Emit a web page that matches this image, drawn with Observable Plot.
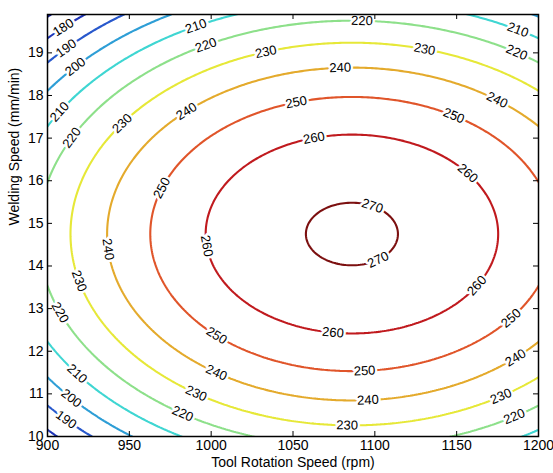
<!DOCTYPE html>
<html><head><meta charset="utf-8">
<script src="https://cdn.jsdelivr.net/npm/d3@7"></script>
<script src="https://cdn.jsdelivr.net/npm/@observablehq/plot@0.6"></script>
<style>body{margin:0;background:#fff} svg{display:block}</style>
</head><body><div id="chart"></div>
<script>
// Axis ticks
const xTicks = [900, 950, 1000, 1050, 1100, 1150, 1200];
const yTicks = [10, 11, 12, 13, 14, 15, 16, 17, 18, 19];
// Contour levels
const levels = [170, 180, 190, 200, 210, 220, 230, 240, 250, 260, 270];
// Response surface (peak location/height, curvatures)
const peakX = 1086, peakY = 14.75, peakZ = 271.1;
const curvX = 0.00139, curvY = 2.04;
// Contour label positions
const labelLevel = [180,190,200,210,220,230,210,220,230,240,250,260,220,210,220,230,240,240,250,250,260,260,270,240,230,220,250,240,230,220,210,200,190,270,260,260,250,240,230,250,240,230,220];
const labelX = [911,913,918,992,998,1034,909,917,949,987,973,997,1092,1187,1186,1130,1079,1174,1053,1147,1064,1157,1097,936,918,906,1001,1001,989,981,915,911,908,1103,1166,1074,1094,1096,1083,1187,1189,1179,1187];
const labelY = [19.56,19.07,18.65,19.56,19.12,18.98,17.59,16.98,17.28,17.57,15.80,14.47,19.68,19.52,18.98,19.05,18.58,17.87,17.75,17.47,16.89,16.18,15.33,14.39,13.64,12.89,12.30,11.41,10.94,10.47,11.41,10.82,10.31,14.11,13.48,12.35,11.43,10.75,10.14,12.70,11.76,10.86,10.39];

const W = 553, H = 473, mL = 47, mR = 15, mT = 14, mB = 37;
const xDom = [900, 1200], yDom = [10, 19.9];
const plotW = W - mL - mR, plotH = H - mT - mB;
const kx = plotW / (xDom[1] - xDom[0]);
const ky = plotH / (yDom[1] - yDom[0]);

const surf = (x, y) => peakZ - curvX * (x - peakX) ** 2 - curvY * (y - peakY) ** 2;

const labels = labelLevel.map((L, i) => {
  const u = (labelX[i] - peakX) * Math.sqrt(curvX);
  const v = (labelY[i] - peakY) * Math.sqrt(curvY);
  const s = Math.sqrt(peakZ - L) / Math.hypot(u, v);
  const x = peakX + (labelX[i] - peakX) * s;
  const y = peakY + (labelY[i] - peakY) * s;
  const gx = -2 * curvX * (x - peakX) / kx;
  const gy = 2 * curvY * (y - peakY) / ky;
  let r = Math.atan2(gx, -gy) * 180 / Math.PI;
  if (r > 90) r -= 180;
  if (r < -90) r += 180;
  return {x, y, t: String(L), r};
});

const chart = Plot.plot({
  width: W, height: H,
  marginLeft: mL, marginRight: mR, marginTop: mT, marginBottom: mB,
  style: {fontFamily: "'Liberation Sans', Arial, sans-serif", background: "#fff", color: "black"},
  x: {domain: xDom, label: null},
  y: {domain: yDom, label: null},
  color: {type: "ordinal", domain: levels, range: ["#141e8c","#1f35b8","#2858cc","#2e9ed6","#3fd6d2","#8de08a","#e6e838","#e4aa2c","#e0552a","#c01a1e","#7c1010"]},
  marks: [
    Plot.contour({value: surf, x1: 880, x2: 1220, y1: 9.5, y2: 20.5, thresholds: levels,
      stroke: "value", fill: "none", strokeWidth: 2.1, clip: true}),
    Plot.text(labels, {x: "x", y: "y", text: "t", rotate: "r", fontSize: 13,
      fill: "black", stroke: "white", strokeWidth: 5, clip: true}),
    Plot.tickX(xTicks, {x: d => d, insetTop: plotH - 5, stroke: "black"}),
    Plot.tickX(xTicks, {x: d => d, insetBottom: plotH - 5, stroke: "black"}),
    Plot.tickY(yTicks, {y: d => d, insetRight: plotW - 5, stroke: "black"}),
    Plot.tickY(yTicks, {y: d => d, insetLeft: plotW - 5, stroke: "black"}),
    Plot.axisX(xTicks, {tickSize: 0, tickPadding: 4, fontSize: 14, tickFormat: "d", label: null}),
    Plot.axisY(yTicks, {tickSize: 0, tickPadding: 4, fontSize: 14, tickFormat: "d", label: null}),
    Plot.text(["Tool Rotation Speed (rpm)"], {frameAnchor: "bottom", dy: 30, text: d => d, fontSize: 14}),
    Plot.text(["Welding Speed (mm/min)"], {frameAnchor: "left", dx: -33, rotate: -90, text: d => d, fontSize: 14}),
    Plot.frame({stroke: "black", strokeWidth: 1.5})
  ]
});
document.getElementById("chart").appendChild(chart);
</script>
</body></html>
